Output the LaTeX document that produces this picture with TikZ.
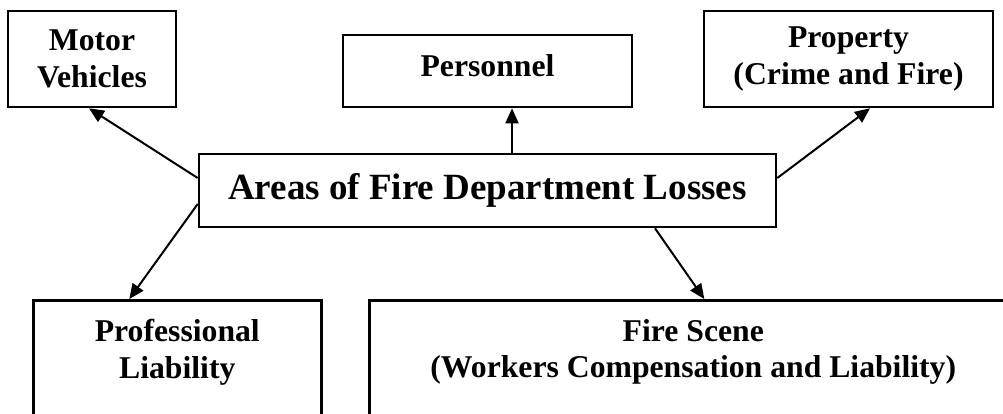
\documentclass[tikz,border=0pt]{standalone}
\usepackage{fontspec}
\setmainfont{Liberation Serif}
\usetikzlibrary{arrows.meta}
\tikzstyle{box}=[draw, line width=2.6pt, align=center, inner sep=0pt,
  font=\bfseries\fontsize{31.7}{36.5}\selectfont]
\tikzstyle{link}=[->, line width=2pt]

\begin{document}
\begin{tikzpicture}[>={Triangle[length=15pt,width=13pt]}, x=1pt, y=-1pt]
    \useasboundingbox (0,0) rectangle (1003,413);
    \clip (0,0) rectangle (1003,413);
    \node[box, minimum width=168pt, minimum height=96pt] (motor) at (92,59) {Motor\\Vehicles};
    \node[box, minimum width=289pt, minimum height=72pt, text depth=12pt] (personnel) at (487.5,71) {Personnel};
    \node[box, minimum width=289pt, minimum height=96pt] (property) at (848.5,59) {Property\\(Crime and Fire)};
    \node[box, minimum width=577pt, minimum height=73pt, font=\bfseries\fontsize{37}{40}\selectfont] (areas) at (487.5,190.5) {Areas of Fire Department Losses};
    \node[box, anchor=north west, minimum width=288pt, inner ysep=19pt, text depth=150pt] (prof) at (32,299) {Professional\\Liability};
    \node[box, anchor=north west, minimum width=648pt, inner ysep=19pt, text depth=150pt] (scene) at (368,299) {Fire Scene\\(Workers Compensation and Liability)};
    \draw[link] ([yshift=12.5pt]areas.west) -- ([xshift=-3pt]motor.south);
    \draw[link] ([xshift=24.5pt]areas.north) -- ([xshift=24.5pt]personnel.south);
    \draw[link] ([yshift=12.5pt]areas.east) -- ([xshift=21.5pt]property.south);
    \draw[link] ([yshift=-13.5pt]areas.west) -- ([xshift=-48pt]prof.north);
    \draw[link] ([xshift=167.5pt]areas.south) -- ([xshift=11pt]scene.north);
\end{tikzpicture}
\end{document}
